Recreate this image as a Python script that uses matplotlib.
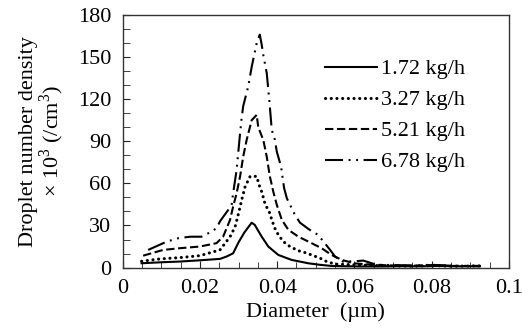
import matplotlib
matplotlib.use("Agg")
import matplotlib.pyplot as plt
from matplotlib.ticker import MultipleLocator

plt.rcParams["font.family"] = ["Liberation Serif", "DejaVu Serif"]
plt.rcParams["mathtext.fontset"] = "custom"
plt.rcParams["mathtext.rm"] = "Liberation Serif"
plt.rcParams["lines.scale_dashes"] = False

# droplet number density (x10^3 /cm^3) vs diameter (um)
d172_x = [0.0049, 0.0100, 0.0148, 0.0200, 0.0252, 0.0270, 0.0286, 0.0300, 0.0315, 0.0334,
          0.0342, 0.0360, 0.0377, 0.0403, 0.0437, 0.0480, 0.0510, 0.0540,
          0.057, 0.062, 0.067, 0.072, 0.077, 0.082, 0.087, 0.0925]
d172_y = [3.1, 3.8, 4.3, 5.2, 6.2, 8.0, 10.2, 18.0, 25.0, 32.0,
          30.4, 22.0, 15.0, 9.0, 5.5, 3.1, 2.0, 1.2,
          1.0, 0.8, 0.8, 1.0, 0.9, 1.2, 0.9, 1.0]

d327_x = [0.0049, 0.0097, 0.0148, 0.0200, 0.0252, 0.0278, 0.0291, 0.0300, 0.0308, 0.0317,
          0.0330, 0.0347, 0.0353, 0.0360, 0.0368, 0.0373, 0.0381, 0.0386, 0.0394, 0.0403,
          0.0416, 0.0433, 0.0455, 0.0472, 0.0489, 0.0511, 0.0528, 0.0550,
          0.060, 0.065, 0.070, 0.075, 0.080, 0.085, 0.0925]
d327_y = [4.5, 6.2, 7.1, 8.5, 12.6, 22.0, 29.0, 38.7, 48.0, 57.7,
          65.0, 65.0, 59.0, 54.0, 46.0, 43.0, 38.7, 34.0, 28.0, 23.3,
          18.5, 15.0, 12.0, 10.7, 9.0, 6.7, 4.3, 2.5,
          2.0, 1.5, 1.2, 1.0, 1.4, 1.0, 1.2]

d521_x = [0.0053, 0.0105, 0.0148, 0.0200, 0.0243, 0.0260, 0.0278, 0.0286, 0.0295, 0.0304,
          0.0312, 0.0321, 0.0334, 0.0347, 0.0351, 0.0364, 0.0373, 0.0381, 0.0390, 0.0399,
          0.0412, 0.0429, 0.0455, 0.0489, 0.0515, 0.0541, 0.0567, 0.0600,
          0.065, 0.070, 0.075, 0.080, 0.085, 0.0925]
d521_y = [8.5, 12.6, 13.8, 15.0, 17.4, 22.0, 34.0, 43.5, 53.0, 65.0,
          79.0, 91.0, 105.0, 108.8, 100.0, 91.0, 79.0, 65.0, 54.0, 44.7,
          34.0, 26.9, 22.0, 17.4, 13.8, 9.0, 5.5, 3.0,
          2.0, 1.5, 1.3, 1.8, 1.2, 1.0]

d678_x = [0.0066, 0.0114, 0.0145, 0.0175, 0.0204, 0.0222, 0.0243, 0.0252, 0.0273, 0.0282,
          0.0286, 0.0295, 0.0303, 0.0308, 0.0312, 0.0325, 0.0334, 0.0347, 0.0355, 0.0360,
          0.0364, 0.0373, 0.0380, 0.0386, 0.0394, 0.0399, 0.0410, 0.0418, 0.0425, 0.0446,
          0.0459, 0.0482, 0.0506, 0.0537, 0.0550, 0.0570, 0.0600, 0.0623, 0.0657,
          0.070, 0.075, 0.080, 0.085, 0.0925]
d678_y = [12.6, 18.5, 21.0, 22.0, 22.0, 24.5, 28.0, 33.0, 41.0, 44.7,
          53.0, 69.6, 93.0, 106.6, 115.0, 129.0, 143.0, 160.0, 166.0, 158.6,
          151.5, 138.5, 118.0, 98.0, 91.0, 82.6, 72.0, 56.5, 49.4, 37.5,
          32.0, 27.3, 23.3, 12.6, 7.8, 4.3, 4.5, 5.0, 2.0,
          1.8, 1.5, 2.0, 1.3, 1.2]

# label, x, y, linestyle, linewidth
series = [
    ("1.72 kg/h", d172_x, d172_y, "-", 1.5),
    ("3.27 kg/h", d327_x, d327_y, (0, (0.1, 4.0)), 2.2),
    ("5.21 kg/h", d521_x, d521_y, (0, (6.0, 2.6)), 1.5),
    ("6.78 kg/h", d678_x, d678_y, (0, (13, 4, 1.4, 4, 1.4, 4)), 1.5),
]

fig = plt.figure(figsize=(5.22, 3.32), dpi=100)
ax = fig.add_axes([0.235, 0.194, 0.740, 0.761])

for label, xs, ys, style, lw in series:
    line, = ax.plot(xs, ys, color="black", linestyle=style, linewidth=lw, label=label)
    if lw > 2:
        line.set_dash_capstyle("round")

ax.set_xlim(0, 0.1)
ax.set_ylim(0, 180)
ax.xaxis.set_minor_locator(MultipleLocator(0.005))
ax.yaxis.set_major_locator(MultipleLocator(30))
ax.yaxis.set_minor_locator(MultipleLocator(10))
ax.set_xticks([0, 0.02, 0.04, 0.06, 0.08, 0.1])
ax.set_xticklabels(["0", "0.02", "0.04", "0.06", "0.08", "0.1"])

ax.tick_params(which="both", direction="in", top=False, right=False,
               labelsize=16, colors="#222222", labelcolor="black")
ax.tick_params(axis="x", which="major", length=5, pad=8)
ax.tick_params(axis="x", which="minor", length=4)
ax.tick_params(axis="y", which="both", length=5, pad=8)
for sp in ax.spines.values():
    sp.set_color("#333333")
    sp.set_linewidth(1.0)

ax.set_xlabel("Diameter  (\u00b5m)", fontsize=16, labelpad=3)
ax.set_ylabel("Droplet number density\n\u00d7 10$^3$ (/cm$^3$)", fontsize=16,
              labelpad=9, linespacing=0.95)

ax.legend(loc="upper left", bbox_to_anchor=(0.525, 0.826), frameon=False,
          fontsize=16, handlelength=2.3, handletextpad=0.2, labelspacing=0.47,
          borderpad=0, borderaxespad=0)

fig.savefig("out.png", dpi=100)
